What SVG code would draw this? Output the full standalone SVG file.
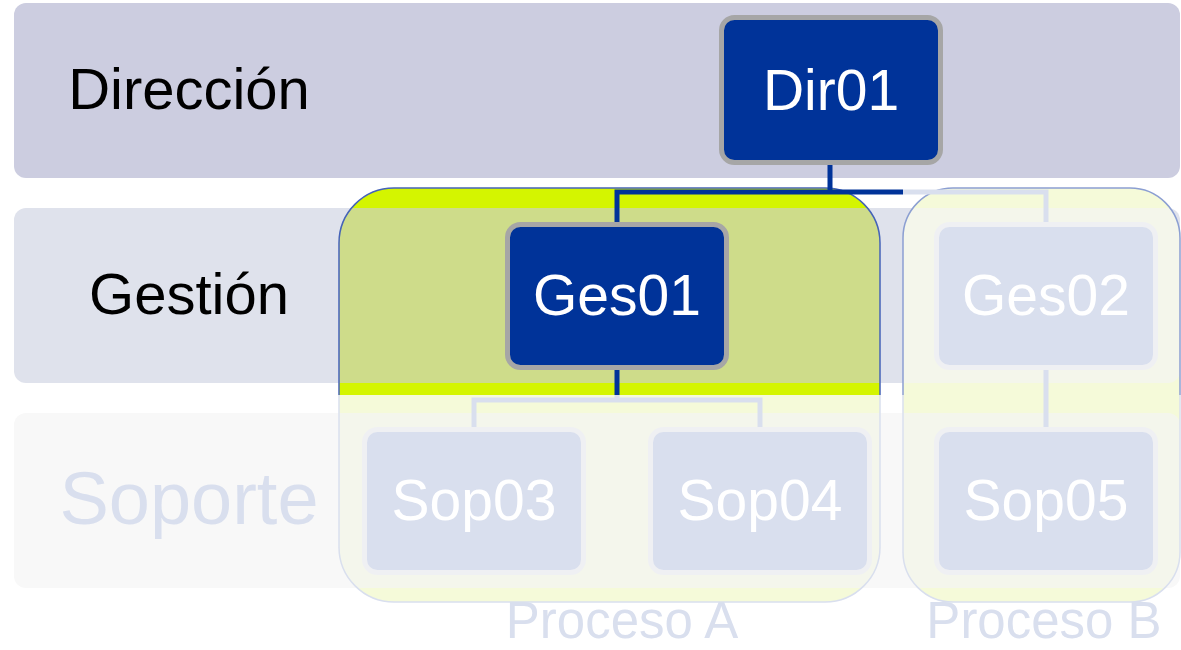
<svg xmlns="http://www.w3.org/2000/svg" width="1181" height="650" viewBox="0 0 1181 650">
<style>
.lbl{font-family:"Liberation Sans",Arial,sans-serif;font-size:58px;text-anchor:middle}
.nt{font-family:"Liberation Sans",Arial,sans-serif;font-size:57px;fill:#FFFFFF;text-anchor:middle}
.dark rect{fill:#003399;stroke:#A6A6A6;stroke-width:5}
.light rect{fill:#D9DFEE;stroke:#EFF0F3;stroke-width:5}
.cd{stroke:#003399;stroke-width:5;fill:none}
.cl{stroke:#D9DFEE;stroke-width:5;fill:none}
.proc{font-family:"Liberation Sans",Arial,sans-serif;font-size:51px;fill:#D9DFEE;text-anchor:middle}
</style>
<defs>
<clipPath id="clipA"><rect x="339" y="188" width="541" height="414" rx="55"/></clipPath>
<clipPath id="clipB"><rect x="903" y="188" width="277" height="414" rx="50"/></clipPath>
<clipPath id="topPart"><rect x="0" y="0" width="1181" height="395"/></clipPath>
<clipPath id="botPart"><rect x="0" y="395" width="1181" height="255"/></clipPath>
</defs>
<rect width="1181" height="650" fill="#FFFFFF"/>
<g id="bands">
<g id="band-direccion"><rect x="14" y="3" width="1166" height="175" rx="12" fill="#CCCDE0"/>
<text class="lbl" x="189" y="109" fill="#000000">Dirección</text></g>
<g id="band-gestion"><rect x="14" y="208" width="1166" height="175" rx="12" fill="#DFE2EC"/>
<text class="lbl" x="189" y="314" fill="#000000">Gestión</text></g>
<g id="band-soporte"><rect x="14" y="413" width="1166" height="175" rx="12" fill="#F8F8F8"/>
<text class="lbl" x="189" y="524" fill="#D9DFEE" style="font-size:74px">Soporte</text></g>
</g>
<g id="procesoA">
<g clip-path="url(#clipA)">
<rect x="339" y="188" width="541" height="414" fill="#F5FAD9"/>
<rect x="14" y="413" width="1166" height="175" rx="12" fill="#F4F6EC"/>
<rect x="339" y="188" width="541" height="207" fill="#D4F500"/>
<rect x="339" y="208" width="541" height="175" fill="#CEDC8A"/>
</g>
<rect x="339" y="188" width="541" height="414" rx="55" fill="none" stroke="#D9DFEE" stroke-width="1.5" clip-path="url(#botPart)"/>
<rect x="339" y="188" width="541" height="414" rx="55" fill="none" stroke="#4563B8" stroke-width="1.5" clip-path="url(#topPart)"/>
<text class="proc" x="622" y="638">Proceso A</text>
</g>
<g id="procesoB">
<g clip-path="url(#clipB)">
<rect x="903" y="188" width="277" height="414" fill="#F5FAD9"/>
<rect x="14" y="208" width="1166" height="175" rx="12" fill="#F4F6EB"/>
<rect x="14" y="413" width="1166" height="175" rx="12" fill="#F4F6EC"/>
</g>
<rect x="903" y="188" width="277" height="414" rx="50" fill="none" stroke="#D9DFEE" stroke-width="1.5" clip-path="url(#botPart)"/>
<rect x="903" y="188" width="277" height="414" rx="50" fill="none" stroke="#8C9FD2" stroke-width="1.5" clip-path="url(#topPart)"/>
<text class="proc" x="1044" y="638">Proceso B</text>
</g>
<g id="connectors">
<path class="cd" d="M830 165 V192 M617 222 V192 H903"/>
<path class="cl" d="M903 192 H1046 V222"/>
<path class="cd" d="M617 370 V395"/>
<path class="cl" d="M617 395 V400 M474 427 V400 H760 V427"/>
<path class="cl" d="M1046 370 V427"/>
</g>
<g id="Dir01" class="dark"><rect x="721.5" y="17.5" width="219" height="145" rx="13"/><text class="nt" x="831" y="110">Dir01</text></g>
<g id="Ges01" class="dark"><rect x="507.5" y="224.5" width="219" height="143" rx="13"/><text class="nt" x="617" y="315">Ges01</text></g>
<g id="Ges02" class="light"><rect x="936.5" y="224.5" width="219" height="143" rx="13"/><text class="nt" x="1046" y="315">Ges02</text></g>
<g id="Sop03" class="light"><rect x="364.5" y="429.5" width="219" height="143" rx="13"/><text class="nt" x="474" y="520">Sop03</text></g>
<g id="Sop04" class="light"><rect x="650.5" y="429.5" width="219" height="143" rx="13"/><text class="nt" x="760" y="520">Sop04</text></g>
<g id="Sop05" class="light"><rect x="936.5" y="429.5" width="219" height="143" rx="13"/><text class="nt" x="1046" y="520">Sop05</text></g>
</svg>
